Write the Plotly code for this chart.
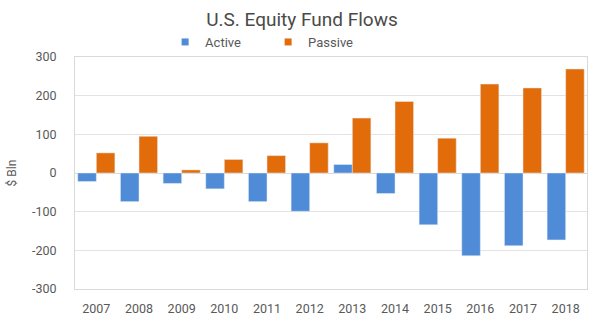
import plotly.graph_objects as go

years = ["2007", "2008", "2009", "2010", "2011", "2012",
         "2013", "2014", "2015", "2016", "2017", "2018"]
active = [-22, -74, -27, -41, -74, -99, 22, -53, -134, -214, -188, -173]
passive = [52, 95, 8, 35, 45, 78, 142, 185, 90, 230, 220, 269]
y_ticks = [-300, -200, -100, 0, 100, 200, 300]
y_tick_text = ["-300", "-200", "-100", "0", "100", "200", "300"]

series = [("Active", active, "#4f8bd6"), ("Passive", passive, "#e36c0a")]

font_family = "Roboto, Lato, sans-serif"
text_color = "#595959"
grid_color = "#e3e3e3"

fig = go.Figure()
for name, values, color in series:
    fig.add_trace(go.Bar(x=years, y=values, name=name, marker_color=color,
                         showlegend=False))
# small square swatches for the legend
for name, values, color in series:
    fig.add_trace(go.Scatter(x=[None], y=[None], mode="markers", name=name,
                             marker=dict(symbol="square", size=7, color=color)))

fig.update_layout(
    width=604, height=328,
    margin=dict(l=63, r=17, t=57, b=39),
    paper_bgcolor="white", plot_bgcolor="white",
    barmode="group", bargap=0.13, bargroupgap=0,
    font=dict(family=font_family, color=text_color, size=12),
    title=dict(text="U.S. Equity Fund Flows", x=0.5, xanchor="center",
               y=0.94, yanchor="middle",
               font=dict(size=19, color="#4a4a4a", family=font_family)),
    legend=dict(orientation="h", x=0.176, xanchor="left", y=1.0, yanchor="bottom",
                entrywidth=58, entrywidthmode="pixels",
                font=dict(size=13, color=text_color),
                itemwidth=30, tracegroupgap=0, bgcolor="rgba(0,0,0,0)"),
    showlegend=True,
)
fig.update_xaxes(showline=True, linecolor="#d9d9d9", mirror=True,
                 showgrid=False, ticks="", tickfont=dict(size=12.5),
                 ticklabelstandoff=8)
fig.update_yaxes(range=[-300, 300], tickvals=y_ticks, ticktext=y_tick_text,
                 showline=True, linecolor="#d9d9d9", mirror=True, gridcolor=grid_color,
                 zeroline=True, zerolinecolor="#d9d9d9", zerolinewidth=1,
                 tickfont=dict(size=12.5), ticks="", ticklabelstandoff=15,
                 title=dict(text="$ Bln", font=dict(size=12), standoff=12))

fig.write_html("out.html")
